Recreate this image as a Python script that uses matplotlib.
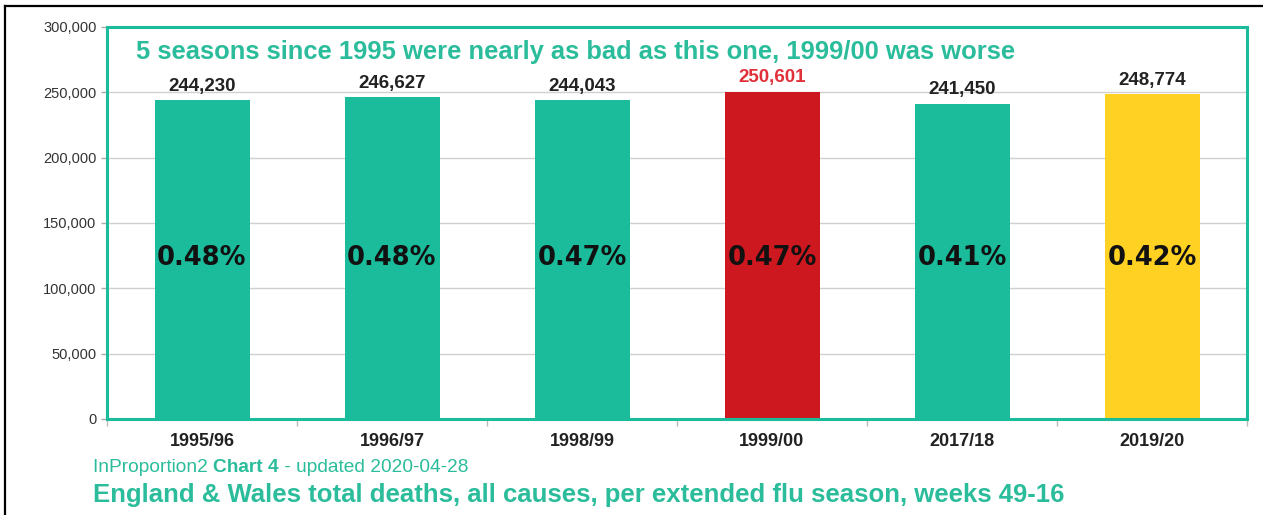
import matplotlib.pyplot as plt
from matplotlib.lines import Line2D
from matplotlib.ticker import FuncFormatter, MultipleLocator

seasons = ["1995/96", "1996/97", "1998/99", "1999/00", "2017/18", "2019/20"]
deaths = [244230, 246627, 244043, 250601, 241450, 248774]
pct_labels = ["0.48%", "0.48%", "0.47%", "0.47%", "0.41%", "0.42%"]

TEAL = "#1abc9c"
TEAL_TXT = "#2bbd9b"
RED = "#cc181e"
YELLOW = "#fed123"
bar_colors = [TEAL, TEAL, TEAL, RED, TEAL, YELLOW]
label_colors = ["#222222", "#222222", "#222222", "#e0313a", "#222222", "#222222"]

plt.rcParams["font.family"] = ["Liberation Sans", "DejaVu Sans"]

W, H = 1263, 515
fig = plt.figure(figsize=(W / 100, H / 100), dpi=100)
ax = fig.add_axes([107 / W, 1 - 419 / H, 1140 / W, 392 / H])

x = list(range(len(seasons)))
ax.bar(x, deaths, width=0.5, color=bar_colors, zorder=2)

ax.set_xlim(-0.5, len(seasons) - 0.5)
ax.set_ylim(0, 300000)
ax.yaxis.set_major_locator(MultipleLocator(50000))
ax.yaxis.set_major_formatter(FuncFormatter(lambda v, p: f"{int(v):,}"))
ax.grid(axis="y", color="#d0d0d0", linewidth=1, zorder=0)

for s in ax.spines.values():
    s.set_color(TEAL)
    s.set_linewidth(2.2)

ax.tick_params(axis="y", labelsize=10.5, labelcolor="#333333", color="#aaaaaa",
               length=4, width=1)
ax.set_xticks(x)
ax.set_xticklabels(seasons, fontsize=13, fontweight="bold", color="#222222")
ax.tick_params(axis="x", length=0, pad=10)
ax.set_xticks([i - 0.5 for i in range(len(seasons) + 1)], minor=True)
ax.tick_params(axis="x", which="minor", length=5, color="#bbbbbb", width=1)

for xi, v, lc, pl in zip(x, deaths, label_colors, pct_labels):
    ax.text(xi, v + 4000, f"{v:,}", ha="center", va="bottom", fontsize=13.5,
            fontweight="bold", color=lc, zorder=3)
    ax.text(xi, 123500, pl, ha="center", va="center", fontsize=18.5,
            fontweight="bold", color="#111111", family="DejaVu Sans", zorder=3)

ax.text(0.025, 0.935, "5 seasons since 1995 were nearly as bad as this one, 1999/00 was worse",
        transform=ax.transAxes, ha="left", va="center", fontsize=18.4,
        fontweight="bold", color=TEAL_TXT)

# footer first line: pieces placed one after another
renderer = fig.canvas.get_renderer()
xpos = 93 / W
for piece, weight in [("InProportion2 ", "normal"), ("Chart 4", "bold"),
                      (" - updated 2020-04-28", "normal")]:
    t = fig.text(xpos, 1 - 468 / H, piece, ha="left", va="center",
                 fontsize=13.8, fontweight=weight, color=TEAL_TXT)
    bb = t.get_window_extent(renderer)
    xpos = bb.x1 / W

fig.text(93 / W, 1 - 495 / H,
         "England & Wales total deaths, all causes, per extended flu season, weeks 49-16",
         ha="left", va="center", fontsize=18.5, fontweight="bold", color=TEAL_TXT)

# black frame from the screenshot
fig.add_artist(Line2D([5 / W, 5 / W], [0, 1 - 6 / H], color="black",
                      linewidth=1.6, transform=fig.transFigure))
fig.add_artist(Line2D([5 / W, 1], [1 - 6 / H, 1 - 6 / H], color="black",
                      linewidth=1.6, transform=fig.transFigure))

fig.savefig("out.png", dpi=100)
